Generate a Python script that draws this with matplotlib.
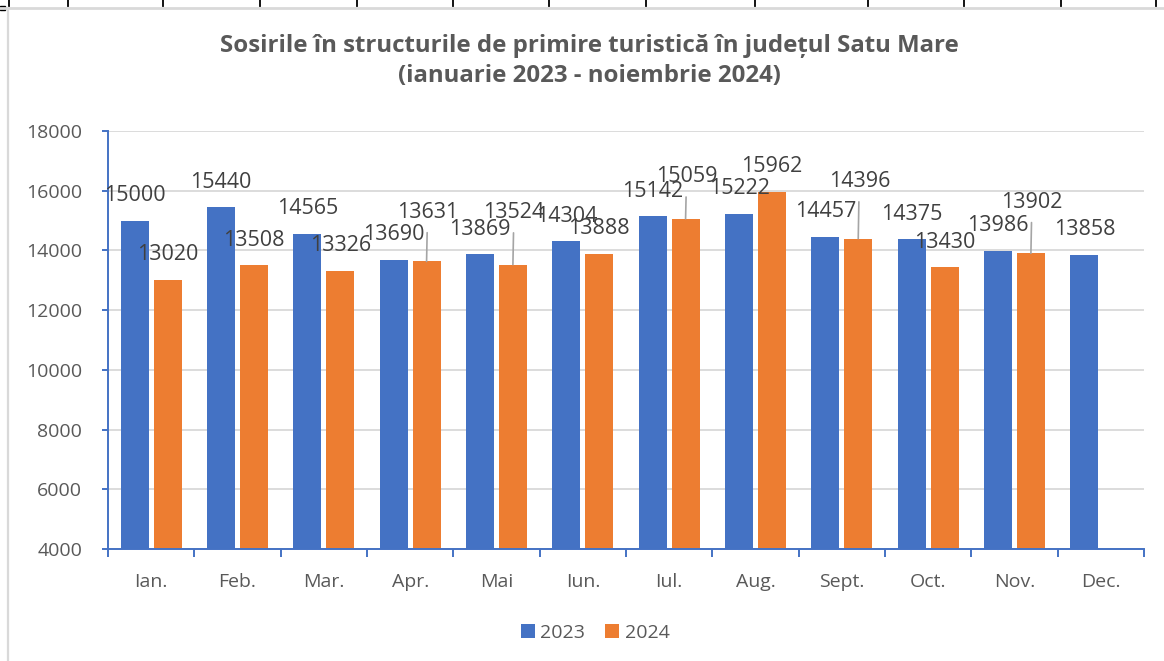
import numpy as np
import matplotlib
matplotlib.use("Agg")
import matplotlib.pyplot as plt
from matplotlib.lines import Line2D
from matplotlib.patches import Rectangle

# date: sosiri lunare, judetul Satu Mare
luni = ['Ian.', 'Feb.', 'Mar.', 'Apr.', 'Mai', 'Iun.', 'Iul.', 'Aug.',
        'Sept.', 'Oct.', 'Nov.', 'Dec.']
sosiri_2023 = [15000, 15440, 14565, 13690, 13869, 14304, 15142, 15222,
               14457, 14375, 13986, 13858]
sosiri_2024 = [13020, 13508, 13326, 13631, 13524, 13888, 15059, 15962,
               14396, 13430, 13902]
ani = ['2023', '2024']

titlu = ('Sosirile în structurile de primire turistică în județul Satu Mare\n'
         '(ianuarie 2023 - noiembrie 2024)')

# culori tip Excel
albastru = '#4472C4'
portocaliu = '#ED7D31'
gri_text = '#595959'
gri_eticheta = '#404040'
gri_grila = '#D9D9D9'

plt.rcParams['font.family'] = ['Open Sans', 'DejaVu Sans']

W, H = 1164, 661
fig = plt.figure(figsize=(W / 100, H / 100), dpi=100)
ax = fig.add_axes([108 / W, 1 - 549 / H, (1144 - 108) / W, (549 - 131) / H])

x = np.arange(len(luni))
latime = 0.325
dx = 0.19

b1 = ax.bar(x - dx, sosiri_2023, width=latime, color=albastru, label=ani[0], zorder=3)
x24 = x[:len(sosiri_2024)]
b2 = ax.bar(x24 + dx, sosiri_2024, width=latime, color=portocaliu, label=ani[1], zorder=3)

# etichete de date (cateva mutate mai sus, cu linie de legatura)
marime_eticheta = 15.5
ridicare_2024 = {3: 49, 4: 52, 6: 42, 8: 57, 10: 51}
for xi, v in zip(x - dx, sosiri_2023):
    ax.annotate(f'{v}', xy=(xi, v), xytext=(0, 25), textcoords='offset pixels',
                ha='center', va='center', fontsize=marime_eticheta,
                color=gri_eticheta, zorder=5)
for i, (xi, v) in enumerate(zip(x24 + dx, sosiri_2024)):
    if i in ridicare_2024:
        ax.annotate(f'{v}', xy=(xi, v), xytext=(1, ridicare_2024[i]),
                    textcoords='offset pixels', ha='center', va='center',
                    fontsize=marime_eticheta, color=gri_eticheta, zorder=5,
                    arrowprops=dict(arrowstyle='-', color='#A5A5A5', lw=1.2,
                                    shrinkA=5, shrinkB=0))
    else:
        ax.annotate(f'{v}', xy=(xi, v), xytext=(0, 25), textcoords='offset pixels',
                    ha='center', va='center', fontsize=marime_eticheta,
                    color=gri_eticheta, zorder=5)

ax.set_ylim(4000, 18000)
ax.set_xlim(-0.5, len(luni) - 0.5)
ax.set_yticks(np.arange(4000, 18001, 2000))
ax.set_xticks(x)
ax.set_xticklabels(luni)
ax.set_xticks(np.arange(-0.5, len(luni), 1.0), minor=True)

ax.grid(axis='y', color=gri_grila, linewidth=1.3, zorder=0)
ax.set_axisbelow(True)

for s in ['top', 'right']:
    ax.spines[s].set_visible(False)
for s in ['left', 'bottom']:
    ax.spines[s].set_color(albastru)
    ax.spines[s].set_linewidth(1.4)
    ax.spines[s].set_zorder(4)

ax.tick_params(axis='y', direction='out', length=4.5, width=1.4, color=albastru,
               labelsize=14, labelcolor=gri_text, pad=14)
ax.tick_params(axis='x', which='major', length=0, labelsize=14,
               labelcolor=gri_text, pad=17)
ax.tick_params(axis='x', which='minor', direction='out', length=5.5, width=1.4,
               color=albastru)

fig.text(589 / W, 1 - 61 / H, titlu, ha='center', va='center', fontsize=17.3,
         fontweight='bold', color=gri_text, linespacing=1.32)

fig.legend(handles=[b1, b2], labels=ani, loc='center', ncol=2,
           bbox_to_anchor=(595 / W, 1 - 633 / H), frameon=False, fontsize=14,
           labelcolor=gri_text, handlelength=0.72, handleheight=0.72,
           handletextpad=0.3, columnspacing=1.0)

# marginea foii de calcul din captura
for px in [9, 68, 163, 260, 357, 453, 549, 646, 755, 868, 964, 1061, 1156]:
    fig.add_artist(Line2D([px / W, px / W], [1, 1 - 6 / H], color='black', lw=1.3))
fig.add_artist(Line2D([0, 1], [1 - 7.5 / H, 1 - 7.5 / H], color=gri_grila, lw=2))
fig.add_artist(Line2D([8 / W, 8 / W], [1 - 7.5 / H, 0], color=gri_grila, lw=1.6))
fig.add_artist(Rectangle((0, 1 - 10 / H), 5 / W, 4 / H, color='black',
                         transform=fig.transFigure))

fig.savefig('out.png', dpi=100)
